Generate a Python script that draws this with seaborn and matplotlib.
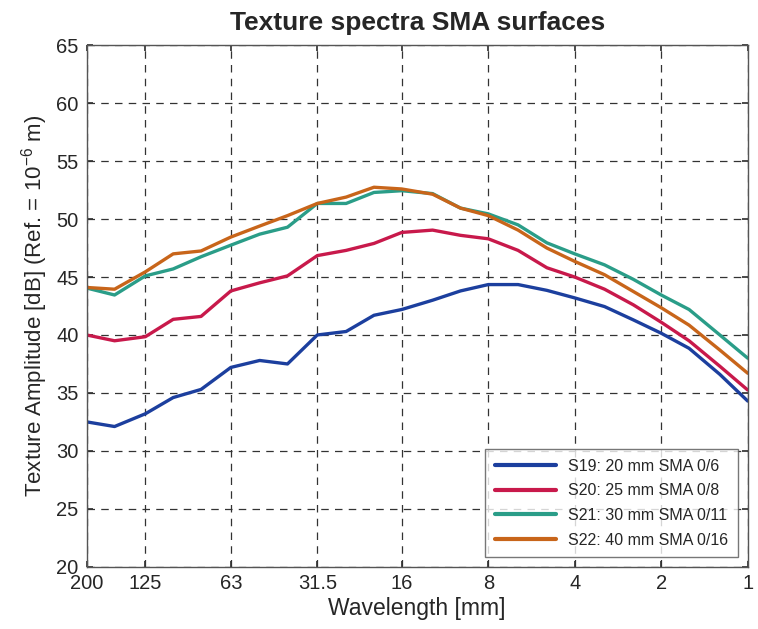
import numpy as np
import pandas as pd
import matplotlib
matplotlib.use("Agg")
import matplotlib.pyplot as plt
import seaborn as sns

# One-third octave band centre wavelengths [mm]
wavelength = [200, 160, 125, 100, 80, 63, 50, 40, 31.5, 25, 20, 16,
              12.5, 10, 8, 6.3, 5, 4, 3.15, 2.5, 2, 1.6, 1.25, 1]

s19 = [32.5, 32.1, 33.2, 34.6, 35.3, 37.2, 37.8, 37.5, 40.0, 40.3, 41.7, 42.2,
       43.0, 43.8, 44.35, 44.35, 43.85, 43.2, 42.45, 41.3, 40.15, 38.85, 36.6, 34.3]
s20 = [40.0, 39.5, 39.85, 41.35, 41.6, 43.8, 44.5, 45.1, 46.85, 47.3, 47.9, 48.85,
       49.05, 48.6, 48.3, 47.3, 45.8, 45.0, 43.95, 42.6, 41.1, 39.5, 37.3, 35.25]
s21 = [44.05, 43.45, 45.1, 45.7, 46.75, 47.75, 48.7, 49.3, 51.35, 51.35, 52.3, 52.45,
       52.2, 50.95, 50.45, 49.5, 47.95, 47.0, 46.05, 44.8, 43.45, 42.2, 40.0, 38.0]
s22 = [44.1, 43.95, 45.45, 47.0, 47.25, 48.45, 49.4, 50.3, 51.35, 51.9, 52.75, 52.6,
       52.15, 50.95, 50.3, 49.05, 47.5, 46.35, 45.2, 43.75, 42.35, 40.85, 38.7, 36.7]

series_names = ["S19: 20 mm SMA 0/6", "S20: 25 mm SMA 0/8",
                "S21: 30 mm SMA 0/11", "S22: 40 mm SMA 0/16"]
series_colors = ["#1C3F9E", "#C8194B", "#2A9D88", "#C8651A"]

tick_values = [200, 125, 63, 31.5, 16, 8, 4, 2, 1]
tick_labels = ["200", "125", "63", "31.5", "16", "8", "4", "2", "1"]

sns.set_theme(style="white")
plt.rcParams["font.family"] = ["Liberation Sans", "DejaVu Sans"]
plt.rcParams["mathtext.fontset"] = "custom"
plt.rcParams["mathtext.rm"] = "Liberation Sans"
plt.rcParams["mathtext.it"] = "Liberation Sans:italic"

frames = []
for name, vals in zip(series_names, [s19, s20, s21, s22]):
    frames.append(pd.DataFrame({"Wavelength": wavelength, "Level": vals, "Surface": name}))
df = pd.concat(frames, ignore_index=True)

fig = plt.figure(figsize=(7.58, 6.29), dpi=100)
ax = fig.add_axes([0.1144, 0.099, 0.8720, 0.829])

sns.lineplot(data=df, x="Wavelength", y="Level", hue="Surface",
             palette=series_colors, linewidth=2.4, ax=ax, sort=False)

ax.set_xscale("log")
ax.set_xlim(200, 1)
ax.set_ylim(20, 65)
ax.set_xticks(tick_values)
ax.set_xticklabels(tick_labels)
ax.minorticks_off()
ax.set_yticks(np.arange(20, 66, 5))

ax.grid(True, which="major", color="#333333", linestyle=(0, (6, 5)), linewidth=0.9)
ax.tick_params(axis="both", direction="in", length=4, color="#333333",
               labelsize=14.5, top=True, right=True, bottom=True, left=True)
ax.tick_params(axis="x", pad=5)
ax.tick_params(axis="y", pad=6)
for sp in ax.spines.values():
    sp.set_color("#555555")
    sp.set_linewidth(1.0)

ax.set_title("Texture spectra SMA surfaces", fontsize=19, fontweight="bold", pad=11)
ax.set_xlabel("Wavelength [mm]", fontsize=16.5, labelpad=3)
ax.set_ylabel(r"Texture Amplitude [dB] (Ref. = 10$^{-6}$ m)", fontsize=16, labelpad=4)

leg = ax.legend(loc="lower right", fontsize=11.5, frameon=True, fancybox=False,
                borderpad=0.6, handlelength=3.8, labelspacing=0.6,
                bbox_to_anchor=(1.0, 0.0), borderaxespad=0.6)
leg.get_frame().set_edgecolor("#555555")
leg.get_frame().set_linewidth(1.0)
for line in leg.get_lines():
    line.set_linewidth(3)

fig.savefig("out.png", dpi=100)
